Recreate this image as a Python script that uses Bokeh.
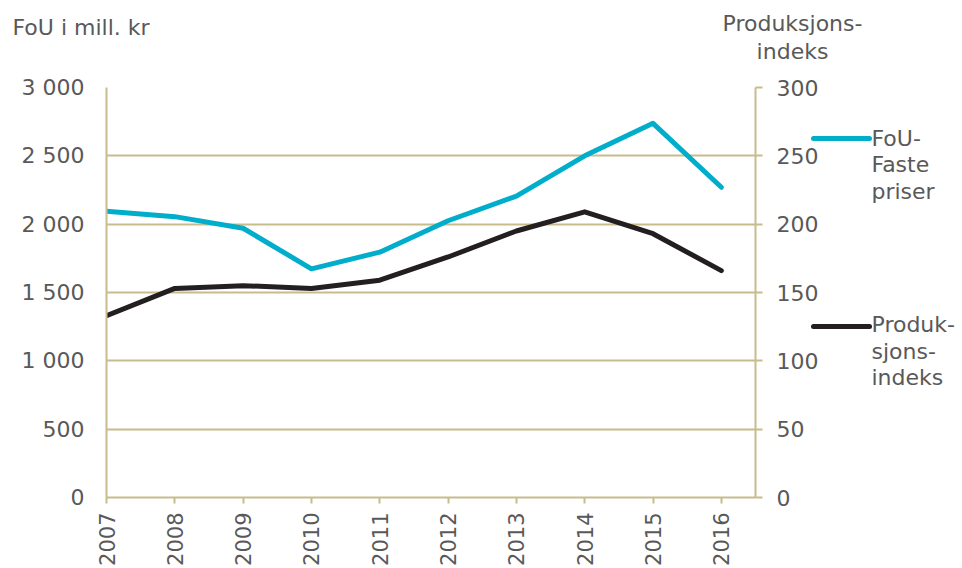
import math
from bokeh.plotting import figure
from bokeh.models import (Range1d, LinearAxis, FixedTicker, Label, ColumnDataSource)
from bokeh.embed import file_html
from bokeh.resources import INLINE

years = [2007, 2008, 2009, 2010, 2011, 2012, 2013, 2014, 2015, 2016]
fou_faste_priser = [2095, 2055, 1970, 1673, 1795, 2025, 2205, 2500, 2738, 2270]
produksjonsindeks = [133, 153, 155, 153, 159, 176, 195, 209, 193, 166]

left_ticks = [0, 500, 1000, 1500, 2000, 2500, 3000]
left_tick_labels = ["0", "500", "1 000", "1 500", "2 000", "2 500", "3 000"]
right_ticks = [0, 50, 100, 150, 200, 250, 300]

left_title = "FoU i mill. kr"
right_title = "Produksjons-\nindeks"
legend_fou = ["FoU-", "Faste", "priser"]
legend_prod = ["Produk-", "sjons-", "indeks"]

TAN = "#C8BC8C"
TXT = "#595959"
CYAN = "#00AECB"
BLACK = "#231F20"
FONT = "DejaVu Sans"
FS = "22px"

src = ColumnDataSource(dict(year=years, fou=fou_faste_priser, prod=produksjonsindeks))

p = figure(frame_width=649, frame_height=410, output_backend="svg", toolbar_location=None,
           x_range=Range1d(2007, 2016.5), y_range=Range1d(0, 3000),
           min_border_left=106, min_border_right=204, min_border_top=87, min_border_bottom=10,
           background_fill_color="white", border_fill_color="white", outline_line_color=None)
p.extra_y_ranges = {"idx": Range1d(0, 300)}

# bottom axis
xa = p.xaxis[0]
xa.ticker = FixedTicker(ticks=years)
xa.major_label_orientation = math.pi / 2
xa.axis_line_color = TAN
xa.axis_line_width = 2
xa.major_tick_line_color = TAN
xa.major_tick_line_width = 2
xa.major_tick_out = 6
xa.major_tick_in = 0
xa.minor_tick_line_color = None
xa.major_label_standoff = 9
xa.major_label_text_font = FONT
xa.major_label_text_font_size = "21px"
xa.major_label_text_color = TXT

# left axis
ya = p.yaxis[0]
ya.ticker = FixedTicker(ticks=left_ticks)
ya.major_label_overrides = {t: l for t, l in zip(left_ticks, left_tick_labels)}
ya.axis_line_color = TAN
ya.axis_line_width = 2
ya.major_tick_line_color = None
ya.minor_tick_line_color = None
ya.major_label_standoff = 16
ya.major_label_text_font = FONT
ya.major_label_text_font_size = FS
ya.major_label_text_color = TXT

# right axis
ra = LinearAxis(y_range_name="idx", ticker=FixedTicker(ticks=right_ticks))
ra.axis_line_color = TAN
ra.axis_line_width = 2
ra.major_tick_line_color = TAN
ra.major_tick_line_width = 2
ra.major_tick_out = 7
ra.major_tick_in = 0
ra.minor_tick_line_color = None
ra.major_label_standoff = 14
ra.major_label_text_font = FONT
ra.major_label_text_font_size = FS
ra.major_label_text_color = TXT
p.add_layout(ra, "right")

p.xgrid.grid_line_color = None
p.ygrid.grid_line_color = TAN
p.ygrid.grid_line_width = 2

r1 = p.line("year", "fou", source=src, line_color=CYAN, line_width=5,
            line_join="round", line_cap="round")
r2 = p.line("year", "prod", source=src, y_range_name="idx", line_color=BLACK, line_width=5,
            line_join="round", line_cap="round")

# legend swatches (drawn as the ticks of a bare axis placed right of the index axis)
sw_fou_pos, sw_prod_pos = 262.5, 125.0   # vertical placement on the index scale
sw = LinearAxis(y_range_name="idx", ticker=FixedTicker(ticks=[sw_fou_pos], minor_ticks=[sw_prod_pos]))
sw.axis_line_color = None
sw.major_label_overrides = {sw_fou_pos: ""}
sw.major_label_text_font_size = "1px"
sw.major_label_standoff = 0
sw.major_tick_in = 8
sw.major_tick_out = 48
sw.major_tick_line_color = CYAN
sw.major_tick_line_width = 5
sw.major_tick_line_cap = "round"
sw.minor_tick_in = 8
sw.minor_tick_out = 48
sw.minor_tick_line_color = BLACK
sw.minor_tick_line_width = 5
sw.minor_tick_line_cap = "round"
p.add_layout(sw, "right")

legend_text = "\n".join(legend_fou + [""] * 4 + legend_prod)
p.add_layout(Label(x=2, y=372, x_units="screen", y_units="screen", text=legend_text,
                   text_font=FONT, text_font_size=FS, text_color=TXT,
                   text_baseline="top", text_align="left", text_line_height=1.065), "right")

p.add_layout(Label(x=-94, y=48, x_units="screen", y_units="screen", text=left_title,
                   text_font=FONT, text_font_size=FS, text_color=TXT,
                   text_baseline="bottom", text_align="left"), "above")
p.add_layout(Label(x=686, y=-1, x_units="screen", y_units="screen", text=right_title,
                   text_font=FONT, text_font_size=FS, text_color=TXT,
                   text_baseline="bottom", text_align="center", text_line_height=1.1), "above")

open("out.html", "w").write(file_html(p, INLINE))
